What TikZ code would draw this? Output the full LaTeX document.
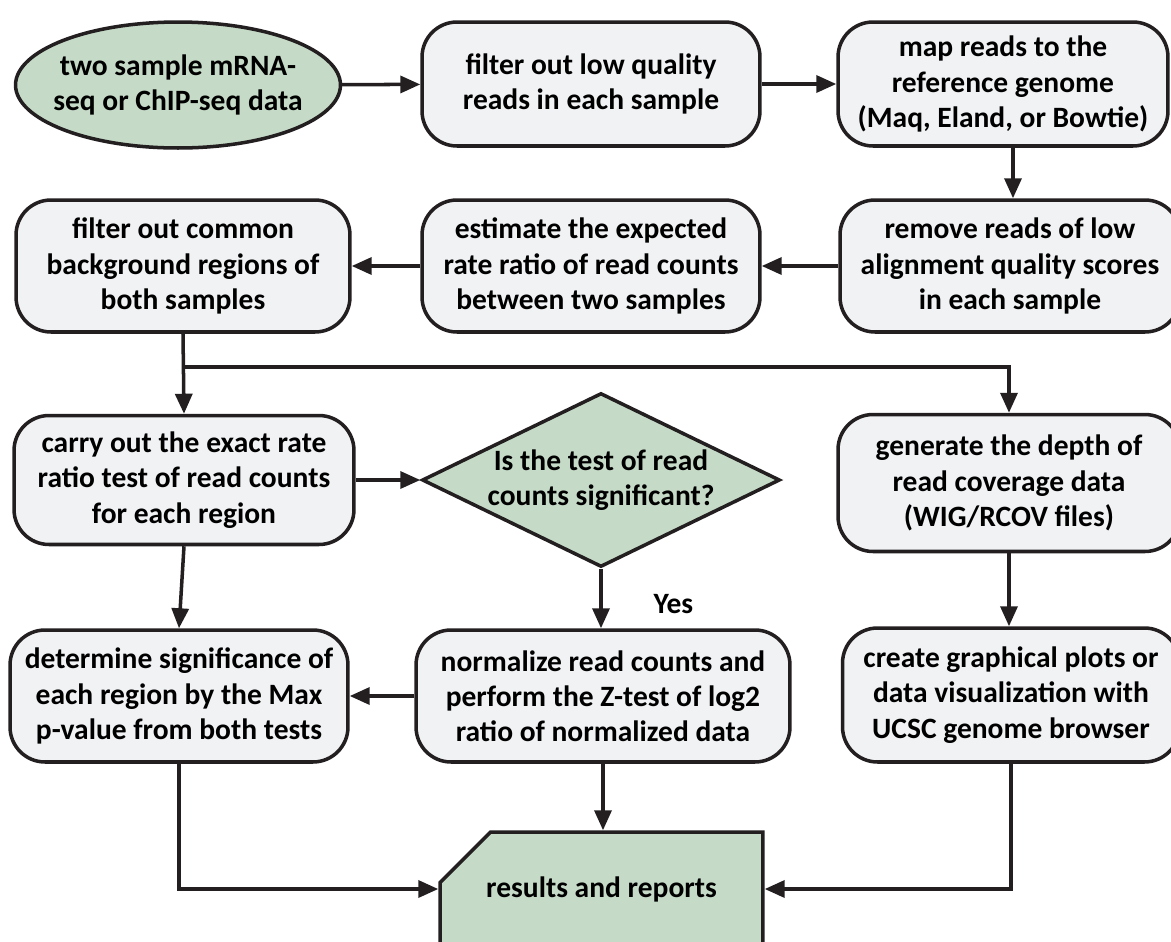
\documentclass[tikz,border=0pt]{standalone}
\usepackage{fontspec}
\setmainfont{Carlito}
\usetikzlibrary{arrows.meta,positioning,calc,shapes.geometric,shapes.misc}

\definecolor{boxgray}{HTML}{F1F2F4}
\definecolor{boxgreen}{HTML}{C6DBC7}
\definecolor{lineblack}{HTML}{231F20}

\begin{document}
\begin{tikzpicture}[x=0.02cm,y=-0.02cm,>={Triangle[length=0.4cm,width=0.34cm]},
    font=\bfseries\fontsize{16.8}{20}\selectfont]
  \tikzstyle{box}=[draw=lineblack,line width=2pt,rounded corners=0.7cm,fill=boxgray,align=center,inner sep=0pt]
  \tikzstyle{start}=[draw=lineblack,line width=2pt,ellipse,fill=boxgreen,align=center,inner xsep=-0.2cm,inner ysep=0pt]
  \tikzstyle{test}=[draw=lineblack,line width=2pt,diamond,aspect=2.06,fill=boxgreen,align=center,inner sep=0pt]
  \tikzstyle{report}=[draw=lineblack,line width=2pt,chamfered rectangle,chamfered rectangle corners=north west,
    chamfered rectangle xsep=0.76cm,chamfered rectangle ysep=0.76cm,fill=boxgreen,align=center,inner sep=0pt]
  \tikzstyle{flow}=[->,line width=2pt,draw=lineblack]
  \useasboundingbox (0,0) rectangle (1171,941);

  % top row
  \node[start,minimum width=6.5cm,minimum height=2.52cm] (src) at (178,85) {two sample mRNA-\\seq or ChIP-seq data};
  \node[box,minimum width=6.76cm,minimum height=2.48cm] (filt) at (591,84) {filter out low quality\\reads in each sample};
  \node[box,minimum width=6.6cm,minimum height=2.48cm] (map) at (1003,84) {map reads to the\\reference genome\\(Maq, Eland, or Bowtie)};

  % second row
  \node[box,minimum width=6.8cm,minimum height=2.64cm] (rem) at (1010,266) {remove reads of low\\alignment quality scores\\in each sample};
  \node[box,minimum width=6.76cm,minimum height=2.64cm] (est) at (591,266) {estimate the expected\\rate ratio of read counts\\between two samples};
  \node[box,minimum width=6.68cm,minimum height=2.64cm] (bg) at (183,266) {filter out common\\background regions of\\both samples};

  % third row
  \node[box,minimum width=6.8cm,minimum height=2.58cm] (exact) at (184,480) {carry out the exact rate\\ratio test of read counts\\for each region};
  \node[test,minimum width=7.16cm,minimum height=3.48cm] (sig) at (601,480) {Is the test of read\\counts significant?};
  \node[box,minimum width=6.84cm,minimum height=2.74cm] (gen) at (1009,483) {generate the depth of\\read coverage data\\(WIG/RCOV files)};

  % fourth row
  \node[box,minimum width=6.76cm,minimum height=2.64cm] (det) at (179,696) {determine significance of\\each region by the Max\\p-value from both tests};
  \node[box,minimum width=7.48cm,minimum height=2.64cm] (norm) at (603,696) {normalize read counts and\\perform the Z-test of log2\\ratio of normalized data};
  \node[box,minimum width=6.74cm,minimum height=2.68cm] (plot) at (1011,695) {create graphical plots or\\data visualization with\\UCSC genome browser};

  \node[report,minimum width=6.46cm,minimum height=2.28cm] (res) at (601.5,889) {results and reports};

  \draw[flow] (src) -- (filt);
  \draw[flow] (filt) -- (map);
  \draw[flow] ([xshift=0.2cm]map.south) -- ([xshift=0.2cm]map.south |- rem.north);
  \draw[flow] (rem) -- (est);
  \draw[flow] (est) -- (bg);
  \draw[flow] (bg.south) -- (exact.north);
  \coordinate (split) at (bg.south |- 0,367);
  \draw[flow] (split) -| (gen.north);
  \draw[flow] (exact.east) -- (sig.west);
  \draw[flow] (sig.south) -- node[right=0.9cm,pos=0.6] (yes) {Yes} (sig.south |- norm.north);
  \draw[flow] (norm) -- (det);
  \draw[flow] (exact.south) -- (det.north);
  \draw[flow] (gen.south) -- (gen.south |- plot.north);
  \draw[flow] (det.south) |- (res.west);
  \draw[flow] (norm.south) -- (norm.south |- res.north);
  \draw[flow] (plot.south) |- (res.east);
\end{tikzpicture}
\end{document}
